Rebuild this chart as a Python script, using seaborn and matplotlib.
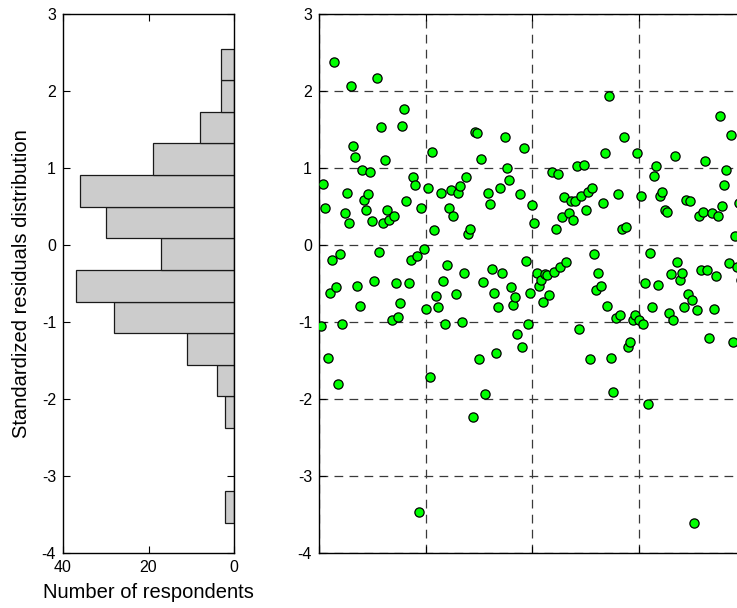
import numpy as np
import matplotlib
matplotlib.use("Agg")
import matplotlib.pyplot as plt
import seaborn as sns

# Standardized residual of each respondent, in respondent order (1..200)
residuals = [
    -1.05, 0.79, 0.48, -1.47, -0.62, -0.19, 2.38, -0.55, -1.81, -0.12,
    -1.02, 0.41, 0.67, 0.29, 2.07, 1.28, 1.14, -0.53, -0.79, 0.98,
    0.59, 0.45, 0.66, 0.95, 0.31, -0.47, 2.17, -0.09, 1.53, 0.29,
    1.10, 0.45, 0.33, -0.98, 0.38, -0.50, -0.93, -0.76, 1.54, 1.76,
    0.57, -0.50, -0.19, 0.88, 0.78, -0.14, -3.47, 0.48, -0.05, -0.83,
    0.74, -1.71, 1.21, 0.19, -0.66, -0.81, 0.67, -0.47, -1.02, -0.26,
    0.48, 0.71, 0.38, -0.64, 0.67, 0.76, -1.00, -0.36, 0.88, 0.14,
    0.21, -2.23, 1.47, 1.45, -1.48, 1.12, -0.48, -1.93, 0.67, 0.53,
    -0.31, -0.62, -1.40, -0.81, 0.74, -0.36, 1.40, 1.00, 0.84, -0.55,
    -0.78, -0.67, -1.16, 0.66, -1.33, 1.26, -0.21, -1.03, -0.62, 0.52,
    0.28, -0.36, -0.53, -0.45, -0.74, -0.38, -0.39, -0.65, 0.95, -0.35,
    0.21, 0.92, -0.28, 0.36, 0.62, -0.22, 0.41, 0.57, 0.33, 0.57,
    1.02, -1.09, 0.64, 1.04, 0.45, 0.69, -1.48, 0.74, -0.12, -0.59,
    -0.36, -0.53, 0.55, 1.19, -0.79, 1.93, -1.47, -1.91, -0.95, 0.66,
    -0.91, 0.21, 1.40, 0.23, -1.33, -1.26, -0.97, -0.91, 1.19, -0.97,
    0.64, -1.03, -0.50, -2.07, -0.10, -0.81, 0.90, 1.02, -0.52, 0.64,
    0.69, 0.45, 0.43, -0.88, -0.38, -0.97, 1.16, -0.22, -0.45, -0.36,
    -0.81, 0.59, -0.64, 0.57, -0.72, -3.61, -0.84, 0.38, -0.33, 0.43,
    1.09, -0.33, -1.21, 0.41, -0.83, -0.40, 0.38, 1.67, 0.50, 0.78,
    0.98, -0.24, 1.43, -1.26, 0.12, -0.29, 0.55, -0.45, 2.55, -0.15,
]
respondents = np.arange(1, len(residuals) + 1)

y_ticks = [-4, -3, -2, -1, 0, 1, 2, 3]
count_ticks = [40, 20, 0]
respondent_ticks = [0, 50, 100, 150, 200]

sns.set_theme(style="white")
plt.rcParams["font.family"] = ["Liberation Sans", "DejaVu Sans"]
plt.rcParams["text.color"] = "black"
plt.rcParams["axes.labelcolor"] = "black"

fig = plt.figure(figsize=(7.37, 6.08), dpi=100)
ax_h = fig.add_axes([0.0855, 0.0905, 0.232, 0.8865])
ax_s = fig.add_axes([0.4328, 0.0905, 0.579, 0.8865])

# Histogram of residuals: 15 equal bins between the smallest and largest value
res = np.asarray(residuals)
edges = np.linspace(res.min(), res.max(), 16)
sns.histplot(y=res, bins=edges, ax=ax_h, color="#cccccc", edgecolor="#1a1a1a",
             linewidth=0.9, alpha=1.0)
ax_h.set_xlim(40, 0)
ax_h.set_ylim(-4, 3)
ax_h.set_xticks(count_ticks)
ax_h.set_xticklabels([str(t) for t in count_ticks])
ax_h.set_yticks(y_ticks)
ax_h.set_yticklabels([str(t) for t in y_ticks])
ax_h.set_xlabel("Number of respondents", fontsize=14.5, labelpad=6, color="black")
ax_h.set_ylabel("Standardized residuals distribution", fontsize=14.5, labelpad=8,
                color="black")

# Residual of each respondent
ax_s.set_axisbelow(True)
sns.scatterplot(x=respondents, y=res, ax=ax_s, color="#00ff00", edgecolor="black",
                s=44, linewidth=0.9, zorder=3, legend=False)
ax_s.set_xlim(0, 200)
ax_s.set_ylim(-4, 3)
ax_s.set_xticks(respondent_ticks)
ax_s.set_xticklabels([])
ax_s.set_yticks(y_ticks)
ax_s.set_yticklabels([str(t) for t in y_ticks])
ax_s.set_xlabel("")
ax_s.set_ylabel("")
ax_s.grid(True, color="#3a3a3a", linestyle=(0, (7, 5)), linewidth=0.9)

for ax in (ax_h, ax_s):
    ax.tick_params(direction="in", length=5, width=0.8, colors="black",
                   labelsize=11.5, pad=5, top=True, right=True, bottom=True, left=True)
    for sp in ax.spines.values():
        sp.set_visible(True)
        sp.set_color("black")
        sp.set_linewidth(1.0)

fig.savefig("out.png", dpi=100)
